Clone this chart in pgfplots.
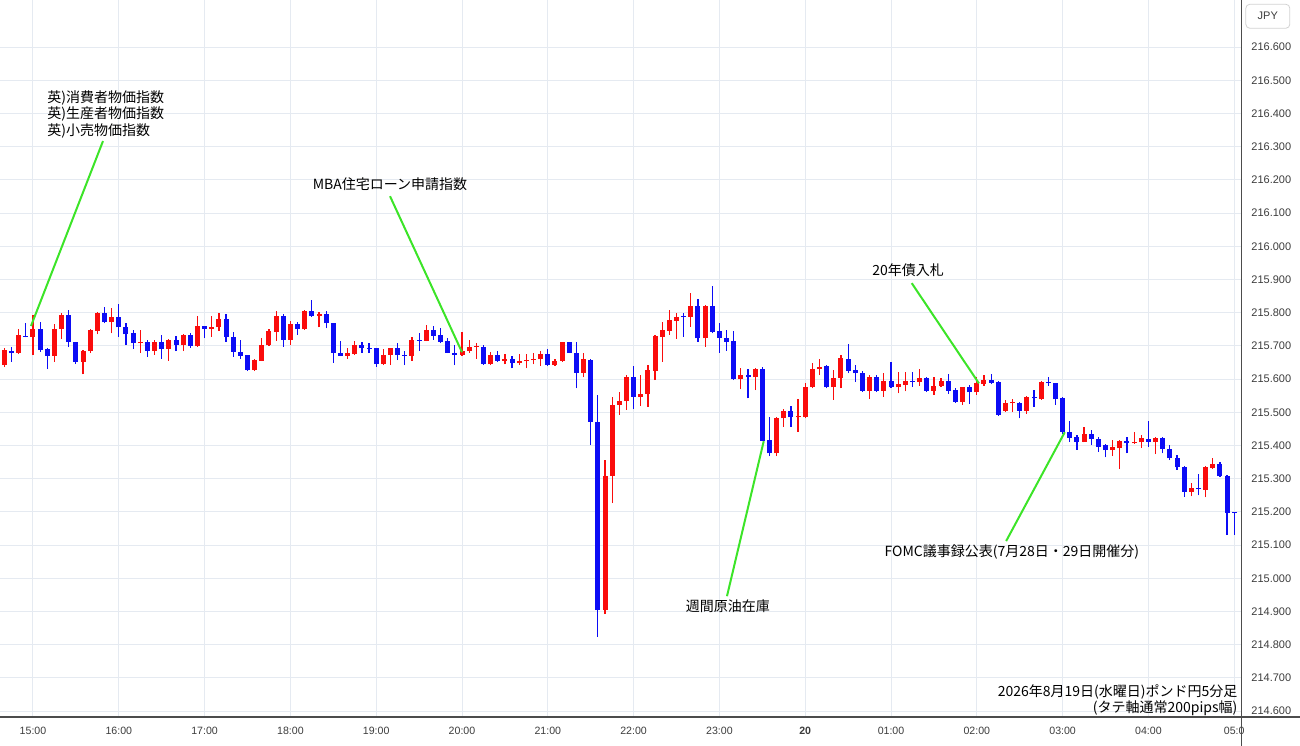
\documentclass[border=0pt]{standalone}
\usepackage{fontspec}
\setmainfont{Liberation Sans}
\newfontfamily\jp{Noto Sans CJK JP}
\usepackage{pgfplots}
\usepackage{pgfplotstable}
\pgfplotsset{compat=1.18}
\definecolor{upc}{RGB}{250,12,12}
\definecolor{dnc}{RGB}{12,12,245}
\definecolor{gridc}{RGB}{229,234,241}
\definecolor{annc}{RGB}{60,228,40}
\definecolor{labc}{RGB}{60,60,60}

% GBP/JPY 5 min candles, i = 5-min steps from 15:00
\pgfplotstableread{
i o h l c
-4 215.642 215.693 215.636 215.687
-3 215.685 215.697 215.652 215.678
-2 215.678 215.750 215.675 215.733
-1 215.731 215.768 215.726 215.727
0 215.727 215.793 215.672 215.751
1 215.751 215.771 215.682 215.687
2 215.690 215.693 215.630 215.670
3 215.670 215.765 215.652 215.751
4 215.751 215.798 215.721 215.793
5 215.793 215.808 215.696 215.711
6 215.711 215.712 215.645 215.652
7 215.652 215.687 215.614 215.685
8 215.684 215.750 215.678 215.748
9 215.746 215.803 215.735 215.800
10 215.798 215.816 215.768 215.771
11 215.771 215.813 215.738 215.788
12 215.788 215.825 215.727 215.756
13 215.756 215.768 215.702 215.735
14 215.738 215.748 215.690 215.708
15 215.708 215.748 215.678 215.712
16 215.712 215.718 215.667 215.684
17 215.684 215.718 215.674 215.712
18 215.712 215.733 215.662 215.690
19 215.690 215.720 215.655 215.718
20 215.718 215.730 215.684 215.702
21 215.702 215.735 215.684 215.733
22 215.733 215.740 215.694 215.699
23 215.699 215.790 215.697 215.760
24 215.760 215.760 215.723 215.751
25 215.751 215.790 215.727 215.756
26 215.756 215.800 215.746 215.780
27 215.780 215.796 215.712 215.727
28 215.727 215.742 215.667 215.682
29 215.682 215.718 215.662 215.670
30 215.672 215.674 215.624 215.627
31 215.627 215.662 215.624 215.657
32 215.655 215.723 215.654 215.702
33 215.702 215.750 215.700 215.746
34 215.742 215.806 215.715 215.790
35 215.790 215.796 215.697 215.718
36 215.718 215.775 215.702 215.765
37 215.765 215.773 215.733 215.750
38 215.750 215.808 215.748 215.806
39 215.806 215.838 215.788 215.790
40 215.791 215.803 215.756 215.796
41 215.796 215.806 215.753 215.768
42 215.768 215.768 215.649 215.679
43 215.679 215.715 215.669 215.670
44 215.670 215.693 215.662 215.678
45 215.675 215.714 215.674 215.702
46 215.702 215.712 215.679 215.693
47 215.693 215.708 215.678 215.690
48 215.693 215.693 215.637 215.645
49 215.645 215.690 215.642 215.674
50 215.674 215.693 215.642 215.693
51 215.693 215.708 215.657 215.672
52 215.674 215.684 215.642 215.670
53 215.669 215.726 215.655 215.718
54 215.718 215.738 215.685 215.715
55 215.715 215.763 215.714 215.748
56 215.748 215.760 215.718 215.730
57 215.733 215.754 215.708 215.712
58 215.714 215.723 215.678 215.679
59 215.679 215.702 215.642 215.674
60 215.672 215.742 215.669 215.685
61 215.684 215.718 215.679 215.697
62 215.697 215.708 215.662 215.701
63 215.697 215.702 215.643 215.645
64 215.644 215.682 215.642 215.672
65 215.672 215.685 215.652 215.655
66 215.655 215.675 215.644 215.660
67 215.660 215.669 215.632 215.647
68 215.647 215.675 215.642 215.655
69 215.654 215.675 215.632 215.657
70 215.657 215.678 215.644 215.662
71 215.659 215.685 215.639 215.675
72 215.675 215.690 215.639 215.642
73 215.642 215.659 215.640 215.655
74 215.654 215.712 215.652 215.712
75 215.712 215.712 215.678 215.679
76 215.679 215.712 215.572 215.619
77 215.619 215.678 215.605 215.659
78 215.659 215.662 215.401 215.471
79 215.471 215.552 214.824 214.904
80 214.904 215.356 214.892 215.309
81 215.309 215.547 215.226 215.522
82 215.522 215.561 215.492 215.535
83 215.535 215.612 215.507 215.605
84 215.605 215.639 215.509 215.547
85 215.546 215.612 215.519 215.555
86 215.555 215.642 215.517 215.627
87 215.625 215.733 215.597 215.730
88 215.727 215.771 215.652 215.748
89 215.746 215.808 215.733 215.778
90 215.776 215.800 215.721 215.788
91 215.790 215.800 215.727 215.786
92 215.788 215.860 215.758 215.820
93 215.820 215.841 215.712 215.723
94 215.723 215.823 215.697 215.820
95 215.821 215.881 215.738 215.742
96 215.746 215.770 215.679 215.724
97 215.725 215.748 215.685 215.712
98 215.714 215.746 215.597 215.599
99 215.599 215.632 215.569 215.612
100 215.611 215.629 215.542 215.607
101 215.605 215.632 215.567 215.629
102 215.629 215.635 215.412 215.414
103 215.416 215.487 215.368 215.376
104 215.376 215.487 215.368 215.482
105 215.482 215.509 215.456 215.505
106 215.505 215.519 215.456 215.485
107 215.485 215.539 215.441 215.488
108 215.485 215.587 215.482 215.575
109 215.575 215.649 215.572 215.629
110 215.629 215.659 215.612 215.637
111 215.639 215.642 215.572 215.575
112 215.575 215.627 215.537 215.602
113 215.602 215.672 215.572 215.665
114 215.662 215.705 215.617 215.625
115 215.627 215.642 215.592 215.617
116 215.619 215.625 215.562 215.565
117 215.565 215.612 215.540 215.607
118 215.607 215.612 215.562 215.565
119 215.565 215.617 215.547 215.595
120 215.595 215.652 215.572 215.575
121 215.575 215.622 215.557 215.585
122 215.582 215.622 215.563 215.595
123 215.595 215.622 215.577 215.592
124 215.592 215.629 215.580 215.602
125 215.602 215.607 215.562 215.565
126 215.565 215.607 215.553 215.579
127 215.579 215.602 215.575 215.595
128 215.595 215.615 215.556 215.565
129 215.567 215.572 215.529 215.532
130 215.532 215.577 215.523 215.575
131 215.575 215.582 215.525 215.560
132 215.560 215.607 215.553 215.587
133 215.585 215.612 215.580 215.597
134 215.597 215.615 215.585 215.589
135 215.592 215.595 215.490 215.492
136 215.504 215.537 215.502 215.529
137 215.527 215.539 215.502 215.532
138 215.527 215.530 215.482 215.504
139 215.504 215.549 215.495 215.547
140 215.547 215.566 215.517 215.542
141 215.539 215.595 215.537 215.592
142 215.592 215.605 215.580 215.587
143 215.587 215.589 215.523 215.539
144 215.542 215.545 215.436 215.441
145 215.441 215.474 215.411 215.424
146 215.426 215.431 215.387 215.411
147 215.411 215.456 215.409 215.436
148 215.436 215.446 215.401 215.421
149 215.421 215.426 215.381 215.396
150 215.401 215.404 215.364 215.386
151 215.386 215.416 215.368 215.394
152 215.391 215.416 215.329 215.414
153 215.414 215.426 215.376 215.406
154 215.406 215.441 215.405 215.411
155 215.409 215.433 215.393 215.423
156 215.421 215.474 215.396 215.411
157 215.411 215.426 215.374 215.424
158 215.424 215.426 215.376 215.389
159 215.389 215.401 215.356 215.361
160 215.361 215.371 215.327 215.334
161 215.335 215.338 215.245 215.260
162 215.260 215.287 215.247 215.273
163 215.273 215.314 215.250 215.268
164 215.267 215.338 215.244 215.334
165 215.332 215.361 215.329 215.344
166 215.344 215.351 215.306 215.308
167 215.308 215.311 215.130 215.197
168 215.200 215.200 215.130 215.197
}\candles

\begin{document}
\begin{tikzpicture}
\begin{axis}[
  scale only axis,
  width=620.5pt, height=358.5pt,
  xmin=-4.615, xmax=168.95,
  ymin=214.582, ymax=216.742,
  clip=false,
  axis line style={draw=none},
  major tick length=0pt,
  grid=major,
  grid style={gridc, line width=0.5pt},
  xtick={0,12,24,36,48,60,72,84,96,108,120,132,144,156,168},
  xticklabels={15:00,16:00,17:00,18:00,19:00,20:00,21:00,22:00,23:00,\textbf{20},01:00,02:00,03:00,04:00,05:0},
  ytick={214.6,214.7,214.8,214.9,215.0,215.1,215.2,215.3,215.4,215.5,215.6,215.7,215.8,215.9,216.0,216.1,216.2,216.3,216.4,216.5,216.6},
  yticklabels={214.600,214.700,214.800,214.900,215.000,215.100,215.200,215.300,215.400,215.500,215.600,215.700,215.800,215.900,216.000,216.100,216.200,216.300,216.400,216.500,216.600},
  yticklabel pos=right,
  xticklabel style={font=\fontsize{5.3}{6}\selectfont, text=labc, anchor=center, inner sep=0pt, yshift=-7pt},
  yticklabel style={font=\fontsize{5.5}{6}\selectfont, text=labc, anchor=west, inner sep=0pt, xshift=5pt},
  candle/.style={draw=none, mark=none, forget plot,
    error bars/y dir=plus, error bars/y explicit, error bars/error mark=none},
]
% wicks
\addplot[candle, restrict expr to domain={\thisrow{c}-\thisrow{o}}{0:1},
  error bars/error bar style={draw=upc, line width=0.6pt}]
  table[x=i, y=l, y error plus expr=\thisrow{h}-\thisrow{l}] {\candles};
\addplot[candle, restrict expr to domain={\thisrow{c}-\thisrow{o}}{-1:0},
  error bars/error bar style={draw=dnc, line width=0.6pt}]
  table[x=i, y=l, y error plus expr=\thisrow{h}-\thisrow{l}] {\candles};
% bodies
\addplot[candle, restrict expr to domain={\thisrow{c}-\thisrow{o}}{0:1},
  error bars/error bar style={draw=upc, line width=2.5pt}]
  table[x=i, y=o, y error plus expr=\thisrow{c}-\thisrow{o}] {\candles};
\addplot[candle, restrict expr to domain={\thisrow{c}-\thisrow{o}}{-1:0},
  error bars/error bar style={draw=dnc, line width=2.5pt}]
  table[x=i, y=c, y error plus expr=\thisrow{o}-\thisrow{c}] {\candles};

% frame
\draw[gray!60!black, line width=0.9pt] (rel axis cs:0,0) -- (rel axis cs:1.0476,0);
\draw[gray!60!black, line width=0.5pt] (rel axis cs:1,1) -- (rel axis cs:1,-0.04);
\node[draw=gray!35, rounded corners=2pt, minimum width=22pt, minimum height=12pt,
  font=\fontsize{5.5}{6}\selectfont, text=labc] at (axis cs:172.7,216.693) {JPY};

% event notes
\draw[annc, line width=1pt] (axis cs:9.79,216.317) -- (axis cs:-0.28,215.760);
\node[anchor=west, align=left, inner sep=0pt, font=\jp\fontsize{7}{6.6}\selectfont]
  at (axis cs:1.96,216.398) {英)消費者物価指数\\英)生産者物価指数\\英)小売物価指数};
\draw[annc, line width=1pt] (axis cs:49.93,216.151) -- (axis cs:60,215.681);
\node[inner sep=0pt, font=\jp\fontsize{7}{8}\selectfont] at (axis cs:49.93,216.187) {MBA住宅ローン申請指数};
\draw[annc, line width=1pt] (axis cs:122.9,215.889) -- (axis cs:132.3,215.587);
\node[inner sep=0pt, font=\jp\fontsize{7}{8}\selectfont] at (axis cs:122.4,215.928) {20年債入札};
\draw[annc, line width=1pt] (axis cs:97.06,214.946) -- (axis cs:102.2,215.413);
\node[inner sep=0pt, font=\jp\fontsize{7}{8}\selectfont] at (axis cs:97.2,214.916) {週間原油在庫};
\draw[annc, line width=1pt] (axis cs:136.1,215.112) -- (axis cs:144.3,215.440);
\node[inner sep=0pt, font=\jp\fontsize{7}{8}\selectfont] at (axis cs:136.9,215.079) {FOMC議事録公表(7月28日・29日開催分)};
\node[anchor=east, align=right, inner sep=0pt, font=\jp\fontsize{7}{7}\selectfont]
  at (axis cs:168.5,214.633) {2026年8月19日(水曜日)ポンド円5分足\\(タテ軸通常200pips幅)};
\end{axis}
\pgfresetboundingbox
\path[use as bounding box] (0,-14pt) rectangle (650pt,358.5pt);
\end{tikzpicture}
\end{document}
